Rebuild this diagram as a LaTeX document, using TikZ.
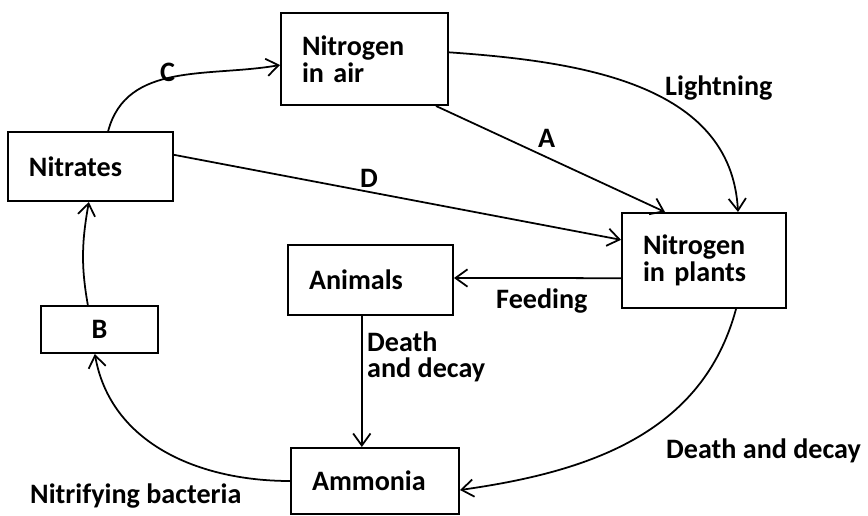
\documentclass[tikz,border=0pt]{standalone}
\usepackage{fontspec}
\setmainfont{Carlito}
\usetikzlibrary{positioning,arrows.meta}

\begin{document}
\begin{tikzpicture}[x=0.03cm,y=-0.03cm,
  font=\fontsize{24}{23}\selectfont\bfseries,
  >={Straight Barb[length=3.6mm,width=5.2mm]},
  box/.style={draw,line width=1.7pt,inner xsep=0.63cm,inner ysep=0pt,align=left},
  lbl/.style={inner sep=0pt,anchor=base west},
  flow/.style={->,line width=1.5pt},
]
\useasboundingbox (0,0) rectangle (868,516);

% ===== boxes =====
\node[box,text width=3.75cm,minimum height=2.76cm] (air) at (364.5,59) {Nitrogen\\in air};
\node[box,text width=3.69cm,minimum height=2.07cm] (nitrates) at (90.5,166.5) {Nitrates};
\node[box,text width=2.25cm,minimum height=1.41cm,align=center] (B) at (99.5,329.5) {B};
\node[box,text width=3.69cm,minimum height=2.10cm] (animals) at (370.5,280) {Animals};
\node[box,text width=3.66cm,minimum height=2.85cm] (plants) at (704,260.5) {Nitrogen\\in plants};
\node[box,text width=3.78cm,minimum height=1.98cm] (ammonia) at (375,481) {Ammonia};

% ===== connectors =====
\draw[flow] ([xshift=0.53cm]nitrates.north) to[out=75,in=190] ([yshift=-0.18cm]air.west);
\draw[flow] ([yshift=0.2cm]air.east) to[out=-4,in=93] ([xshift=1.02cm]plants.north);
\draw[flow] ([xshift=-0.39cm]air.south east) -- ([xshift=-1.17cm]plants.north);
\draw[flow] ([yshift=0.35cm]nitrates.east) -- ([yshift=0.62cm]plants.west);
\draw[flow] ([yshift=-0.53cm]plants.west) -- ([yshift=0.06cm]animals.east);
\draw[flow] ([xshift=-0.26cm]animals.south) -- ([xshift=-0.26cm]animals.south |- ammonia.north);
\draw[flow] ([xshift=0.96cm]plants.south) to[out=-105,in=8] ([yshift=-0.27cm]ammonia.east);
\draw[flow] (ammonia.west) to[out=180,in=-80] ([xshift=-0.14cm]B.south);
\draw[flow] ([xshift=-0.35cm]B.north) to[out=100,in=-100] ([xshift=-0.05cm]nitrates.south);

% ===== labels =====
\node[lbl] (lC) at (160,82) {C};
\node[lbl] (lLight) at (665,96) {Lightning};
\node[lbl] (lA) at (538,148) {A};
\node[lbl] (lD) at (360,188) {D};
\node[lbl] (lFeed) at (496,309) {Feeding};
\node[lbl,align=left] (lDeathA) at (367,378) {Death\\and decay};
\node[lbl] (lDeathP) at (666,458) {Death and decay};
\node[lbl] (lNitri) at (30,503) {Nitrifying bacteria};
\end{tikzpicture}
\end{document}
